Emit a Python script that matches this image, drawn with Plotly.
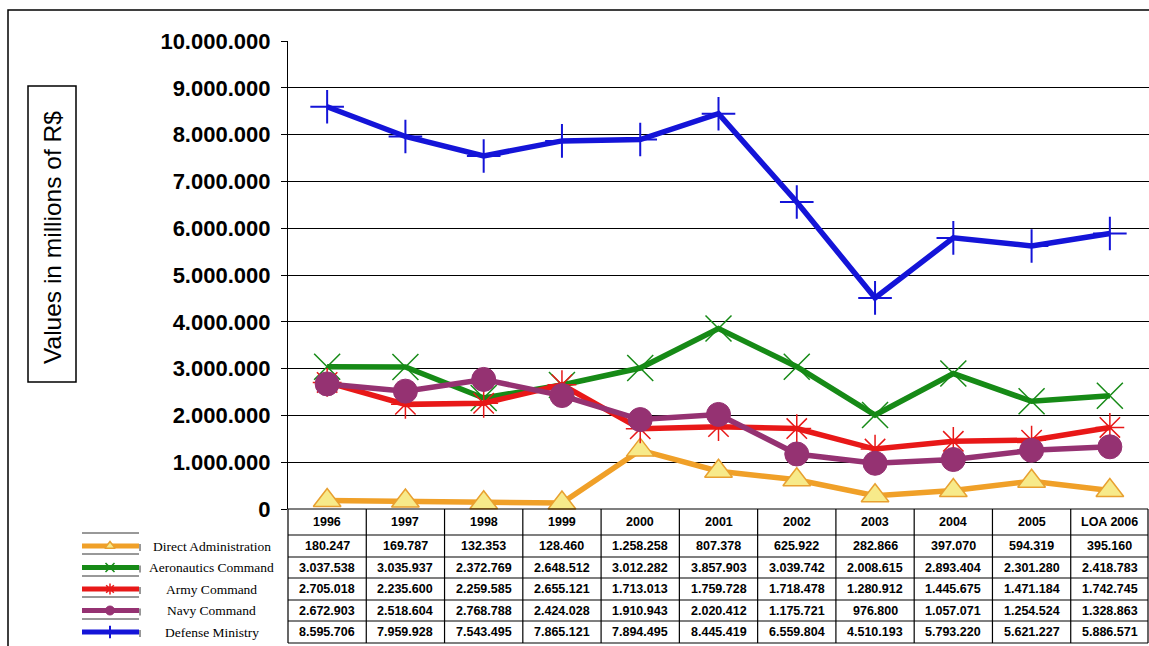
import plotly.graph_objects as go

years = ["1996", "1997", "1998", "1999", "2000", "2001", "2002", "2003", "2004", "2005", "LOA 2006"]

direct_admin = [180247, 169787, 132353, 128460, 1258258, 807378, 625922, 282866, 397070, 594319, 395160]
aeronautics = [3037538, 3035937, 2372769, 2648512, 3012282, 3857903, 3039742, 2008615, 2893404, 2301280, 2418783]
army = [2705018, 2235600, 2259585, 2655121, 1713013, 1759728, 1718478, 1280912, 1445675, 1471184, 1742745]
navy = [2672903, 2518604, 2768788, 2424028, 1910943, 2020412, 1175721, 976800, 1057071, 1254524, 1328863]
defense = [8595706, 7959928, 7543495, 7865121, 7894495, 8445419, 6559804, 4510193, 5793220, 5621227, 5886571]

series_names = ["Direct Administration", "Aeronautics Command", "Army Command", "Navy Command", "Defense Ministry"]
series_values = [direct_admin, aeronautics, army, navy, defense]

y_ticks = list(range(0, 10000001, 1000000))

W, H = 1149, 646
def px(x):
    return x / W
def py(y):
    return 1 - y / H

styles = [
    dict(color="#f0a028", marker=dict(symbol="triangle-up", size=24, color="#f7ea8a", line=dict(color="#e8a030", width=1.5))),
    dict(color="#168a16", marker=dict(symbol="x-thin-open", size=26, color="#168a16", line=dict(color="#168a16", width=1.5))),
    dict(color="#e81818", marker=dict(symbol="asterisk-open", size=24, color="#e81818", line=dict(color="#e81818", width=1.5))),
    dict(color="#953272", marker=dict(symbol="circle", size=24, color="#953272", line=dict(color="#953272", width=1))),
    dict(color="#1414d8", marker=dict(symbol="cross-thin-open", size=24, color="#1414d8", line=dict(color="#1414d8", width=2))),
]

fig = go.Figure()

row_centers = [546, 567.5, 589, 610.5, 632]
row_bounds = [535, 557, 578, 600, 621, 643]
for i, (name, st) in enumerate(zip(series_names, styles)):
    yc = row_centers[i]
    fig.add_trace(go.Scatter(x=[82, 139], y=[yc, yc], mode="lines", line=dict(color=st["color"], width=5),
                             xaxis="x2", yaxis="y2", showlegend=False, hoverinfo="skip"))
    m = dict(st["marker"])
    m["size"] = 9
    fig.add_trace(go.Scatter(x=[110], y=[yc], mode="markers", marker=m,
                             xaxis="x2", yaxis="y2", showlegend=False, hoverinfo="skip"))

for name, vals, st in zip(series_names, series_values, styles):
    fig.add_trace(go.Scatter(x=years, y=vals, mode="lines+markers", name=name,
                             line=dict(color=st["color"], width=5.5), marker=st["marker"],
                             showlegend=False, cliponaxis=False))

shapes = []
shapes.append(dict(type="rect", xref="paper", yref="paper", x0=px(8), x1=px(1160), y0=py(660), y1=py(10),
                   line=dict(color="black", width=1.5)))
shapes.append(dict(type="rect", xref="paper", yref="paper", x0=px(28), x1=px(76), y0=py(382), y1=py(86),
                   line=dict(color="black", width=1.5)))
x0t, x1t = 288, 1148
colw = (1149 - 288) / 11
for yb in [509] + row_bounds:
    shapes.append(dict(type="line", xref="paper", yref="paper", x0=px(x0t), x1=px(x1t), y0=py(yb), y1=py(yb),
                       line=dict(color="black", width=1.2)))
for k in range(12):
    xx = 288 + k * colw
    if k == 11:
        xx = 1148
    shapes.append(dict(type="line", xref="paper", yref="paper", x0=px(xx), x1=px(xx), y0=py(509), y1=py(643),
                       line=dict(color="black", width=1.2)))
legend_tops = [533, 554, 576, 597, 619]
for i in range(5):
    shapes.append(dict(type="line", xref="paper", yref="paper", x0=px(82), x1=px(139), y0=py(legend_tops[i]), y1=py(legend_tops[i]),
                       line=dict(color="#333", width=1)))
    shapes.append(dict(type="line", xref="paper", yref="paper", x0=px(140), x1=px(140), y0=py(row_centers[i] - 2), y1=py(row_centers[i] + 5),
                       line=dict(color="#333", width=1)))

annotations = []
annotations.append(dict(text="Values in millions of R$", x=px(52), y=py(238), xref="paper", yref="paper",
                        xanchor="center", yanchor="middle",
                        textangle=-90, showarrow=False, font=dict(family="Liberation Sans, Arial", size=24.5, color="black")))
tfont = dict(family="Liberation Sans, Arial", size=12.5, color="black", weight="bold")
for k, yr in enumerate(years):
    xc = 288 + (k + 0.5) * colw
    annotations.append(dict(text=yr, x=px(xc), y=py(522), xref="paper", yref="paper", showarrow=False,
                            xanchor="center", yanchor="middle", font=tfont))
    for i, vals in enumerate(series_values):
        label = f"{vals[k]:,}".replace(",", ".")
        annotations.append(dict(text=label, x=px(xc), y=py(row_centers[i]), xref="paper", yref="paper",
                                xanchor="center", yanchor="middle", showarrow=False, font=tfont))
for i, name in enumerate(series_names):
    annotations.append(dict(text=name, x=px(212), y=py(row_centers[i]), xref="paper", yref="paper", showarrow=False,
                            xanchor="center", yanchor="middle",
                            font=dict(family="Liberation Serif, Times New Roman", size=13.5, color="black")))

fig.update_layout(
    width=W, height=H, margin=dict(l=0, r=0, t=0, b=0, pad=0, autoexpand=False),
    paper_bgcolor="white", plot_bgcolor="rgba(0,0,0,0)",
    separators=",.",
    shapes=shapes, annotations=annotations,
    xaxis=dict(domain=[px(288), 1.0], type="category", range=[-0.5, 10.5], showticklabels=False,
               showgrid=False, zeroline=False, showline=False, ticks="", anchor="y", automargin=False),
    yaxis=dict(domain=[py(509), py(41)], range=[0, 10000000], tickvals=y_ticks, tickformat=",d", anchor="x",
               showgrid=True, gridcolor="black", gridwidth=1, zeroline=False, automargin=False,
               showline=True, linecolor="black", linewidth=1.2, ticks="outside", ticklen=6, tickcolor="black",
               ticklabelstandoff=6,
               tickfont=dict(family="Liberation Sans, Arial", size=22, color="black", weight="bold")),
    xaxis2=dict(domain=[0, 1], range=[0, W], visible=False, fixedrange=True, anchor="y2", automargin=False),
    yaxis2=dict(domain=[0, 1], range=[H, 0], visible=False, fixedrange=True, anchor="x2", automargin=False),
)

fig.write_html("out.html")
